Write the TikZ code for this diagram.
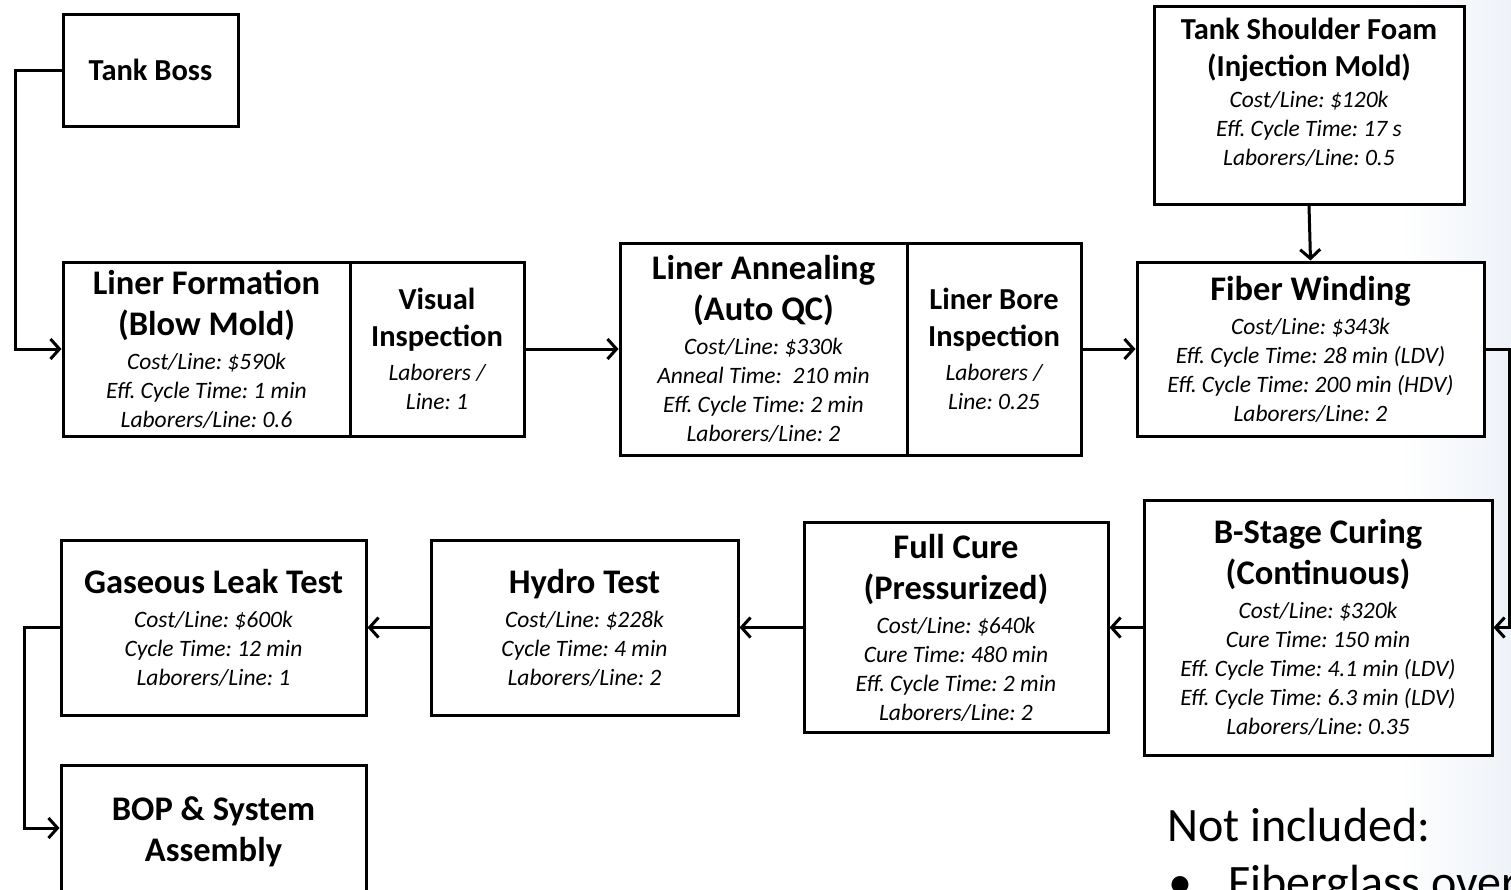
\documentclass[tikz,border=0pt]{standalone}
\usepackage{fontspec}
\setmainfont{Carlito}
\usetikzlibrary{arrows.meta}
\definecolor{paleblue}{RGB}{238,242,248}
% text styles for the step boxes (rigid word spaces)
\newcommand\WordGap{\spaceskip=.226em\relax\xspaceskip=.226em\relax}
\newcommand\TitleBig{\fontsize{34.5}{41}\selectfont\bfseries\WordGap}
\newcommand\TitleSmall{\fontsize{30.5}{36.5}\selectfont\bfseries\WordGap}
\newcommand\Detail{\fontsize{23.5}{29}\selectfont\itshape\WordGap}
\newcommand\Gap{\vspace{5pt}}

\begin{document}
\begin{tikzpicture}[x=1pt,y=-1pt,
  stepbox/.style 2 args={draw, line width=3pt, inner sep=0pt, text width=#1,
    minimum height=#2, align=center, fill=white},
  conn/.style={line width=3pt, -{Straight Barb[length=9pt,width=20pt]}}]

\useasboundingbox (0,0) rectangle (1511,889);
\clip (0,0) rectangle (1511,889);
\fill[white] (0,0) rectangle (1511,889);
\shade[left color=white, right color=paleblue] (1400,0) rectangle (1511,889);

% upper row
\node[stepbox={175pt}{112pt}] (tb) at (150.5,70) {\TitleSmall Tank Boss\par};

\node[stepbox={287pt}{174pt}] (lf) at (206.5,349)
  {{\TitleBig Liner Formation\\(Blow Mold)\par}\Gap
   {\Detail Cost/Line: \$590k\\Eff. Cycle Time: 1 min\\Laborers/Line: 0.6\par}};
\node[stepbox={174pt}{174pt}] (vi) at (437,349)
  {{\TitleSmall Visual\\Inspection\par}\Gap
   {\Detail Laborers /\\Line: 1\par}};

\node[stepbox={287pt}{212pt}] (la) at (763.5,349)
  {{\TitleBig Liner Annealing\\(Auto QC)\par}\Gap
   {\Detail Cost/Line: \$330k\\Anneal Time:\ \ 210 min\\Eff. Cycle Time: 2 min\\Laborers/Line: 2\par}};
\node[stepbox={174pt}{212pt}] (lb) at (994,349)
  {{\TitleSmall Liner Bore\\Inspection\par}\Gap
   {\Detail Laborers /\\Line: 0.25\par}};

\node[stepbox={310pt}{198pt}] (ts) at (1309,105) {};
\node[anchor=north, inner sep=0pt, text width=300pt, align=center] (tstext) at (1309,18)
  {{\TitleSmall Tank Shoulder Foam\\(Injection Mold)\par}\vspace{2pt}
   {\Detail Cost/Line: \$120k\\Eff. Cycle Time: 17 s\\Laborers/Line: 0.5\par}};

\node[stepbox={347pt}{174pt}] (fw) at (1310.5,349)
  {{\TitleBig Fiber Winding\par}\Gap
   {\Detail Cost/Line: \$343k\\Eff. Cycle Time: 28 min (LDV)\\Eff. Cycle Time: 200 min (HDV)\\Laborers/Line: 2\par}};

% lower row
\node[stepbox={348pt}{255pt}] (bs) at (1318,627.5)
  {{\TitleBig B-Stage Curing\\(Continuous)\par}\Gap
   {\Detail Cost/Line: \$320k\\Cure Time: 150 min\\Eff. Cycle Time: 4.1 min (LDV)\\Eff. Cycle Time: 6.3 min (LDV)\\Laborers/Line: 0.35\par}};

\node[stepbox={304pt}{210pt}] (fc) at (956,627.5)
  {{\TitleBig Full Cure\\(Pressurized)\par}\Gap
   {\Detail Cost/Line: \$640k\\Cure Time: 480 min\\Eff. Cycle Time: 2 min\\Laborers/Line: 2\par}};

\node[stepbox={307pt}{175pt}] (ht) at (584.5,627.5)
  {{\TitleBig Hydro Test\par}\Gap
   {\Detail Cost/Line: \$228k\\Cycle Time: 4 min\\Laborers/Line: 2\par}};

\node[stepbox={305pt}{175pt}] (gl) at (213.5,627.5)
  {{\TitleBig Gaseous Leak Test\par}\Gap
   {\Detail Cost/Line: \$600k\\Cycle Time: 12 min\\Laborers/Line: 1\par}};

\node[stepbox={305pt}{126pt}] (bop) at (213.5,828) {};
\node[inner sep=0pt, text width=300pt, align=center] (boptext) at (213.5,832)
  {\TitleBig BOP \& System\\Assembly\par};

% routing corners
\coordinate (c1) at (15,70);
\coordinate (c2) at (1509,349);
\coordinate (c3) at (24,627.5);

% connectors
\draw[conn] (tb.west) -- (c1) |- (lf.west);
\draw[conn] (vi.east) -- (la.west);
\draw[conn] (lb.east) -- (fw.west);
\draw[conn] (ts.south) -- (fw.north);
\draw[conn] (fw.east) -- (c2) |- (bs.east);
\draw[conn] (bs.west) -- (fc.east);
\draw[conn] (fc.west) -- (ht.east);
\draw[conn] (ht.west) -- (gl.east);
\draw[conn] (gl.west) -- (c3) |- (bop.west);

% note
\node[anchor=base west, inner sep=0pt, font=\fontsize{48}{58}\selectfont] (note) at (1167,841) {Not included:};
\node[anchor=base west, inner sep=0pt, font=\fontsize{48}{58}\selectfont] (bullet) at (1168,898) {•};
\node[anchor=base west, inner sep=0pt, font=\fontsize{48}{58}\selectfont] (item) at (1228,898) {Fiberglass over};

\end{tikzpicture}
\end{document}
